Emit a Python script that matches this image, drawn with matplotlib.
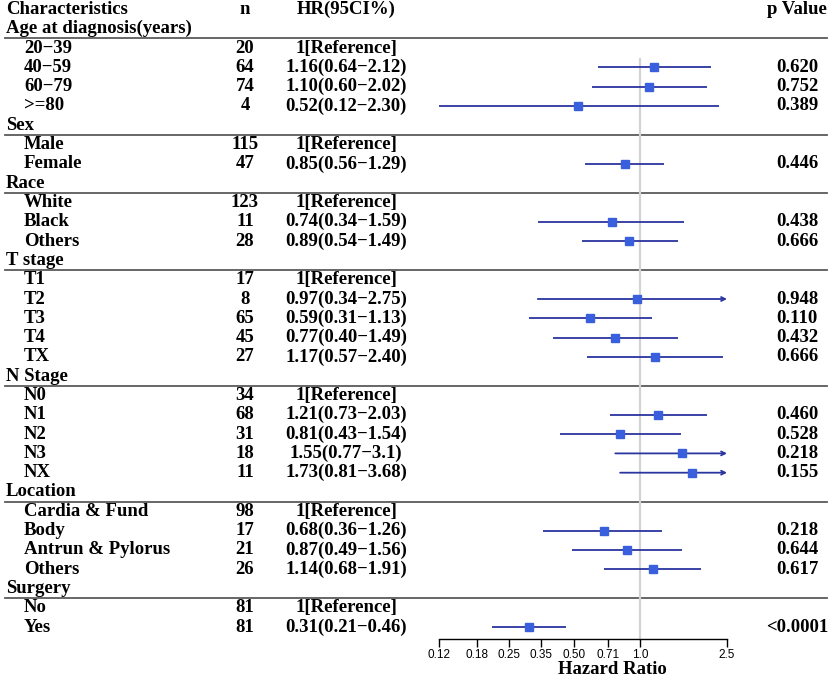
import matplotlib
matplotlib.use("Agg")
import matplotlib.pyplot as plt
import numpy as np

# table content
labels = ["Age at diagnosis(years)", "20−39", "40−59", "60−79", ">=80",
          "Sex", "Male", "Female",
          "Race", "White", "Black", "Others",
          "T stage", "T1", "T2", "T3", "T4", "TX",
          "N Stage", "N0", "N1", "N2", "N3", "NX",
          "Location", "Cardia & Fund", "Body", "Antrun & Pylorus", "Others",
          "Surgery", "No", "Yes"]
n_vals = ["", "20", "64", "74", "4",
          "", "115", "47",
          "", "123", "11", "28",
          "", "17", "8", "65", "45", "27",
          "", "34", "68", "31", "18", "11",
          "", "98", "17", "21", "26",
          "", "81", "81"]
hr_text = ["", "1[Reference]", "1.16(0.64−2.12)", "1.10(0.60−2.02)", "0.52(0.12−2.30)",
           "", "1[Reference]", "0.85(0.56−1.29)",
           "", "1[Reference]", "0.74(0.34−1.59)", "0.89(0.54−1.49)",
           "", "1[Reference]", "0.97(0.34−2.75)", "0.59(0.31−1.13)", "0.77(0.40−1.49)", "1.17(0.57−2.40)",
           "", "1[Reference]", "1.21(0.73−2.03)", "0.81(0.43−1.54)", "1.55(0.77−3.1)", "1.73(0.81−3.68)",
           "", "1[Reference]", "0.68(0.36−1.26)", "0.87(0.49−1.56)", "1.14(0.68−1.91)",
           "", "1[Reference]", "0.31(0.21−0.46)"]
nan = np.nan
hr = [nan, nan, 1.16, 1.10, 0.52,
      nan, nan, 0.85,
      nan, nan, 0.74, 0.89,
      nan, nan, 0.97, 0.59, 0.77, 1.17,
      nan, nan, 1.21, 0.81, 1.55, 1.73,
      nan, nan, 0.68, 0.87, 1.14,
      nan, nan, 0.31]
lo = [nan, nan, 0.64, 0.60, 0.12,
      nan, nan, 0.56,
      nan, nan, 0.34, 0.54,
      nan, nan, 0.34, 0.31, 0.40, 0.57,
      nan, nan, 0.73, 0.43, 0.77, 0.81,
      nan, nan, 0.36, 0.49, 0.68,
      nan, nan, 0.21]
hi = [nan, nan, 2.12, 2.02, 2.30,
      nan, nan, 1.29,
      nan, nan, 1.59, 1.49,
      nan, nan, 2.75, 1.13, 1.49, 2.40,
      nan, nan, 2.03, 1.54, 3.1, 3.68,
      nan, nan, 1.26, 1.56, 1.91,
      nan, nan, 0.46]
p_text = ["", "", "0.620", "0.752", "0.389",
          "", "", "0.446",
          "", "", "0.438", "0.666",
          "", "", "0.948", "0.110", "0.432", "0.666",
          "", "", "0.460", "0.528", "0.218", "0.155",
          "", "", "0.218", "0.644", "0.617",
          "", "", "<0.0001"]
xticks = [0.12, 0.18, 0.25, 0.35, 0.50, 0.71, 1.0, 2.5]
xtick_labels = ["0.12", "0.18", "0.25", "0.35", "0.50", "0.71", "1.0", "2.5"]

W, H = 834, 683
fig = plt.figure(figsize=(W / 100, H / 100), dpi=100)
serif = "Liberation Serif"
fs = 13.5

# full-figure axes in pixel units for the table text
tab = fig.add_axes([0, 0, 1, 1])
tab.set_xlim(0, W)
tab.set_ylim(H, 0)
tab.axis("off")

y0, dy = 9.5, 19.3
ypos = [y0 + (i + 1) * dy for i in range(len(labels))]

kw = dict(fontsize=fs, fontweight="bold", family=serif, va="center")
tab.text(6, y0, "Characteristics", ha="left", **kw)
tab.text(245, y0, "n", ha="center", **kw)
tab.text(346, y0, "HR(95CI%)", ha="center", **kw)
tab.text(797, y0, "p Value", ha="center", **kw)

for i, lab in enumerate(labels):
    y = ypos[i]
    is_head = n_vals[i] == ""
    if is_head:
        tab.text(6, y, lab, ha="left", **kw)
        tab.plot([5, 827], [y + dy / 2, y + dy / 2], color="#5a5a5a", lw=1.3)
    else:
        tab.text(24, y, lab, ha="left", **kw)
        tab.text(245, y, n_vals[i], ha="center", **kw)
        tab.text(346, y, hr_text[i], ha="center", **kw)
        tab.text(797, y, p_text[i], ha="center", **kw)

# forest plot axes
x_left, x_right, y_axis = 439, 727, 639
ax = fig.add_axes([x_left / W, (H - y_axis) / H, (x_right - x_left) / W, y_axis / H])
ax.patch.set_visible(False)
ax.set_xscale("log")
ax.set_xlim(0.12, 2.5)
ax.set_ylim(y_axis, 0)
ax.vlines(1.0, ypos[1] + dy / 2, y_axis, color="#d3d3d3", lw=1.6, zorder=1)

line_col = "#2b35a0"
box_col = "#3a5fdc"
xmax = 2.5
for i in range(len(labels)):
    if np.isnan(hr[i]):
        continue
    y = ypos[i]
    if hi[i] > xmax:
        ax.annotate("", xy=(xmax, y), xytext=(lo[i], y),
                    arrowprops=dict(arrowstyle="->", color=line_col, lw=1.3,
                                    shrinkA=0, shrinkB=0, mutation_scale=7),
                    annotation_clip=False, zorder=2)
    else:
        ax.plot([lo[i], hi[i]], [y, y], color=line_col, lw=1.3, zorder=2,
                clip_on=False, solid_capstyle="butt")
    ax.plot(hr[i], y, marker="s", ms=5.2, color=box_col, mec=box_col, zorder=3,
            clip_on=False)

for s in ["top", "left", "right"]:
    ax.spines[s].set_visible(False)
ax.spines["bottom"].set_bounds(0.12, 2.5)
ax.spines["bottom"].set_linewidth(1.0)
ax.set_yticks([])
ax.minorticks_off()
ax.set_xticks(xticks)
ax.set_xticklabels(xtick_labels, family="Liberation Sans", fontsize=8.5)
ax.tick_params(axis="x", length=6, width=1.0, pad=1.5)

tab.text(612, 670, "Hazard Ratio", ha="center", va="center",
         fontsize=13.5, fontweight="bold", family=serif)

fig.savefig("out.png", dpi=100)
